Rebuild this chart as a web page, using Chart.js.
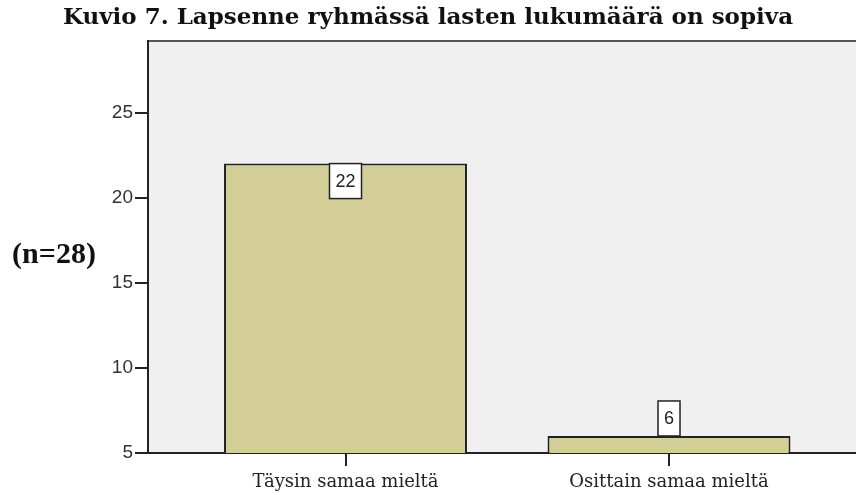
<!DOCTYPE html>
<html lang="fi">
<head>
  <meta charset="UTF-8">
  <title>Kuvio 7</title>
  <script src="https://cdn.jsdelivr.net/npm/chart.js"></script>
  <style>
    html, body { margin: 0; padding: 0; background: #fff; }
    #wrap { width: 856px; height: 495px; }
  </style>
</head>
<body>
<div id="wrap"><canvas id="kuvio7"></canvas></div>

<script>
const titleText = 'Kuvio 7. Lapsenne ryhmässä lasten lukumäärä on sopiva';
const categories = ['Täysin samaa mieltä', 'Osittain samaa mieltä'];
const counts = [22, 6];
const sampleLabel = '(n=28)';
const yTicks = [5, 10, 15, 20, 25];

const ink = '#222';

// grey plot background + top frame line
const plotFrame = {
  id: 'plotFrame',
  beforeDraw(chart) {
    const { ctx, chartArea: a } = chart;
    ctx.save();
    ctx.fillStyle = '#f0f0f0';
    ctx.fillRect(a.left, a.top, a.right - a.left, a.bottom - a.top);
    ctx.strokeStyle = '#555';
    ctx.lineWidth = 2;
    ctx.beginPath();
    ctx.moveTo(a.left, a.top);
    ctx.lineTo(a.right, a.top);
    ctx.stroke();
    ctx.restore();
  }
};

// boxed value labels + horizontal n label
const boxLabels = {
  id: 'boxLabels',
  afterDatasetsDraw(chart) {
    const { ctx, chartArea } = chart;
    const meta = chart.getDatasetMeta(0);
    ctx.save();
    ctx.font = '18px "Liberation Sans", Arial, sans-serif';
    ctx.textAlign = 'center';
    ctx.textBaseline = 'middle';
    meta.data.forEach((bar, i) => {
      const txt = String(counts[i]);
      const w = ctx.measureText(txt).width + 12;
      const h = 35;
      const base = Math.min(bar.base, chartArea.bottom);
      const inside = (base - bar.y) > h + 4;
      const top = inside ? bar.y : bar.y - h;
      ctx.fillStyle = '#fff';
      ctx.fillRect(bar.x - w / 2, top, w, h);
      ctx.strokeStyle = ink;
      ctx.lineWidth = 1.5;
      ctx.strokeRect(bar.x - w / 2, top, w, h);
      ctx.fillStyle = ink;
      ctx.fillText(txt, bar.x, top + h / 2 + 1);
    });
    ctx.font = 'bold 30px "Liberation Serif", "Times New Roman", serif';
    ctx.fillStyle = '#111';
    ctx.fillText(sampleLabel, 54, 255);
    ctx.restore();
  }
};

new Chart(document.getElementById('kuvio7'), {
  type: 'bar',
  data: {
    datasets: [{
      data: counts.map((v, i) => ({ x: i + 1, y: v })),
      backgroundColor: '#d3ce97',
      borderColor: ink,
      borderWidth: 2,
      borderSkipped: false,
      categoryPercentage: 1,
      barPercentage: 0.751
    }]
  },
  options: {
    responsive: true,
    maintainAspectRatio: false,
    animation: false,
    layout: { padding: { left: 0, right: 0, top: 0, bottom: 0 } },
    plugins: {
      legend: { display: false },
      tooltip: { enabled: false },
      title: {
        display: true,
        text: titleText,
        color: '#111',
        font: { family: '"DejaVu Serif", Georgia, serif', size: 23, weight: 'bold' },
        padding: { top: 4, bottom: 9.4 }
      }
    },
    scales: {
      x: {
        type: 'linear',
        offset: false,
        min: 0.3895,
        max: 2.578,
        afterBuildTicks(scale) {
          scale.ticks = categories.map((c, i) => ({ value: i + 1 }));
        },
        afterFit(scale) { scale.height = 42; },
        ticks: {
          autoSkip: false,
          maxRotation: 0,
          padding: 6,
          color: ink,
          font: { family: '"DejaVu Serif", Georgia, serif', size: 18 },
          callback: v => categories[v - 1] || ''
        },
        grid: { offset: false, drawOnChartArea: false, tickLength: 13, color: ink, lineWidth: 2 },
        border: { color: ink, width: 2 }
      },
      y: {
        min: 5,
        max: 29.2,
        afterBuildTicks(scale) {
          scale.ticks = yTicks.map(v => ({ value: v }));
        },
        afterFit(scale) { scale.width = 148; },
        ticks: {
          padding: 2,
          color: '#333',
          font: { family: '"Liberation Sans", Arial, sans-serif', size: 19 }
        },
        grid: { drawOnChartArea: false, tickLength: 13, color: ink, lineWidth: 2 },
        border: { color: ink, width: 2 }
      }
    }
  },
  plugins: [plotFrame, boxLabels]
});
</script>
</body>
</html>
